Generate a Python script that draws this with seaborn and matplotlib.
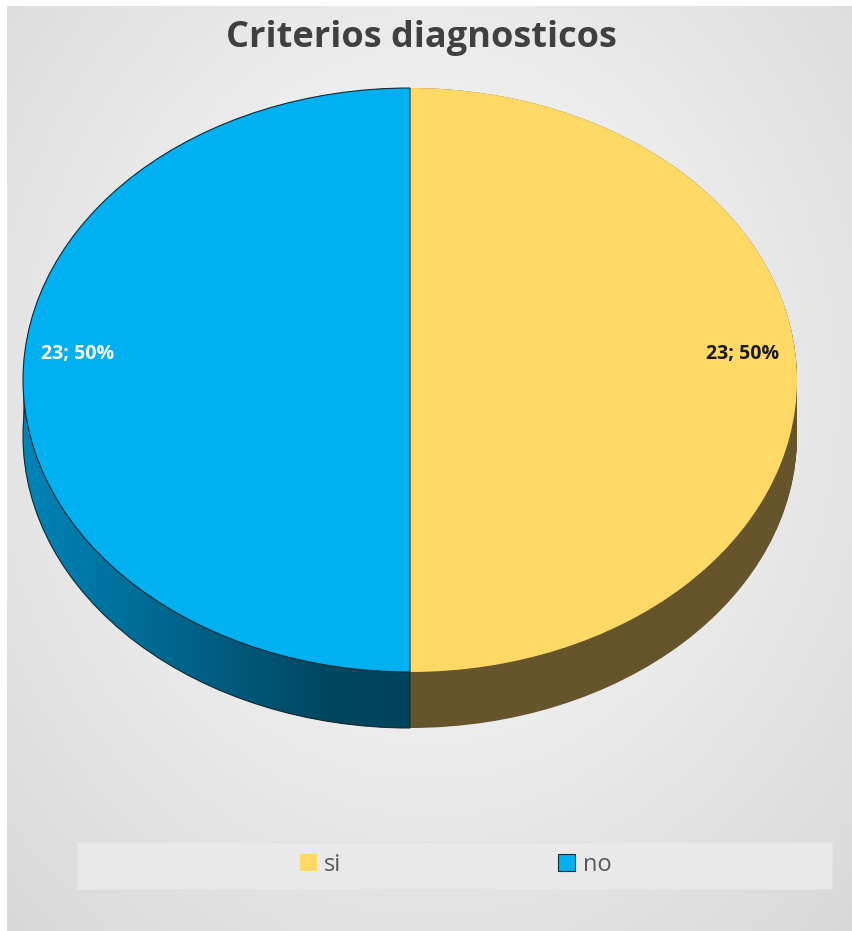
import numpy as np
import matplotlib
matplotlib.use("Agg")
import matplotlib.pyplot as plt
import seaborn as sns
from matplotlib.patches import Polygon, Rectangle
from matplotlib.colors import LinearSegmentedColormap

# ---- data ----
labels = ["si", "no"]
values = [23, 23]
top_colors = ["#FFD966", "#00B0F0"]
side_colors = ["#66552A", "#00506E"]
title = "Criterios diagnosticos"

sns.set_theme(style="white")
plt.rcParams['font.family'] = ['Open Sans', 'DejaVu Sans']

W, H = 852, 931
fig = plt.figure(figsize=(W / 100, H / 100), dpi=100, facecolor="white")

# ---- background with radial gradient ----
bg = fig.add_axes([7 / W, 0, (W - 7) / W, (H - 6) / H])
yy, xx = np.mgrid[0:1:300j, 0:1:300j]
r = np.sqrt(((xx - 0.5) / 0.72) ** 2 + ((yy - 0.42) / 0.78) ** 2)
bg.imshow(r, cmap=LinearSegmentedColormap.from_list("bg", ["#FEFEFE", "#D7D7D7"]),
          extent=[0, 1, 0, 1], origin="upper", aspect="auto", vmin=0, vmax=1.05)
bg.set_xlim(0, 1); bg.set_ylim(0, 1)
bg.axis("off")

# ---- pie geometry ----
cx, cy = 410, 380
a, b = 387, 292
depth = 56
d = depth / b
ax = fig.add_axes([(cx - a) / W, (H - (cy + b + depth)) / H, 2 * a / W, (2 * b + depth) / H])
ax.patch.set_alpha(0)

# side (extrusion) layers
for t in np.linspace(d, 0, 60):
    ws, _ = ax.pie(values, colors=side_colors, startangle=90, counterclock=False,
                   center=(0, -t), radius=1, wedgeprops=dict(linewidth=0, antialiased=True))
    for w in ws:
        w.set_zorder(1)

# gradient on the blue side
th = np.linspace(np.pi, 1.5 * np.pi, 200)
top = np.c_[np.cos(th), np.sin(th)]
bot = np.c_[np.cos(th[::-1]), np.sin(th[::-1]) - d]
poly = Polygon(np.vstack([top, bot]), closed=True, transform=ax.transData,
               facecolor="none", edgecolor="none")
ax.add_patch(poly)
grad = np.linspace(0, 1, 256)[None, :]
side_cmap = LinearSegmentedColormap.from_list(
    "side", [(0, "#0084B8"), (0.45, "#006186"), (0.8, "#00465F"), (1, "#00435C")])
im = ax.imshow(grad, extent=[-1, 0, -1 - d, 0], cmap=side_cmap, aspect="auto", zorder=2)
im.set_clip_path(poly)

# outline of lower blue edge
wo, _ = ax.pie(values, colors=["none", "none"], startangle=90, counterclock=False,
               center=(0, -d), radius=1, wedgeprops=dict(linewidth=0))
wo[1].set_edgecolor("#1C2A33"); wo[1].set_linewidth(0.8); wo[1].set_zorder(2.5)
wo[0].set_visible(False)

# top face
tot = sum(values)
wt, _, autotexts = ax.pie(values, colors=top_colors, startangle=90, counterclock=False,
                          center=(0, 0), radius=1,
                          autopct=lambda p: f"{round(p * tot / 100)}; {p:.0f}%",
                          pctdistance=0.86,
                          wedgeprops=dict(linewidth=0))
for w in wt:
    w.set_zorder(3)
wt[1].set_edgecolor("#1C2A33"); wt[1].set_linewidth(0.8)
txt_colors = ["#1A1A1A", "white"]
for t_, c in zip(autotexts, txt_colors):
    x0, _y = t_.get_position()
    t_.set_position((x0, 0.089))
    t_.set_color(c)
    t_.set_fontsize(14)
    t_.set_fontweight("bold")
    t_.set_zorder(5)

ax.set_xlim(-1, 1)
ax.set_ylim(-1 - d, 1)
ax.set_aspect("auto")
ax.axis("off")

# ---- title ----
fig.text(421 / W, 1 - 38 / H, title, ha="center", va="center", fontsize=26,
         fontweight="bold", color="#404040")

# ---- legend ----
fig.patches.append(Rectangle((77 / W, 1 - 889 / H), (832 - 77) / W, 47 / H,
                             transform=fig.transFigure, facecolor="#E9E9E9",
                             edgecolor="#E2E2E2", linewidth=0.6, zorder=0.5))
leg = fig.legend(wt, labels, loc="center", bbox_to_anchor=(455.5 / W, 1 - 865 / H),
                 ncol=2, frameon=False, fontsize=17, handlelength=0.72,
                 handleheight=0.7, handletextpad=0.3, columnspacing=9.2,
                 labelcolor="#595959")
plt.savefig("out.png", dpi=100, facecolor=fig.get_facecolor())
